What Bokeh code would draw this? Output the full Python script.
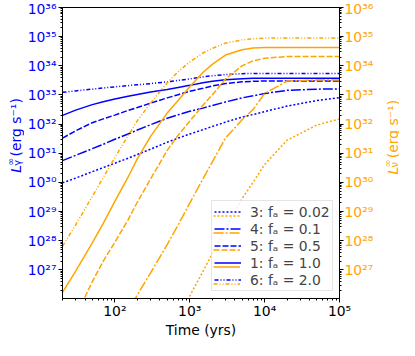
import numpy as np
from bokeh.plotting import figure
from bokeh.layouts import row
from bokeh.models import (Range1d, LogScale, LogAxis, FixedTicker, LogTickFormatter,
                          Legend, LegendItem)
from bokeh.core.properties import value
from bokeh.embed import file_html
from bokeh.resources import INLINE

# ---------------- data ----------------
time_yrs = [20, 30, 50, 70, 100, 150, 200, 300, 500, 700, 1000, 1500, 2000,
            3000, 5000, 7000, 1e4, 2e4, 5e4, 1e5]

# log10 of gamma-ray luminosity L_gamma (erg/s), left axis
log_Lg_fa002 = [29.99, 30.15, 30.37, 30.51, 30.66, 30.83, 30.96, 31.14, 31.38, 31.52,
                31.66, 31.81, 31.92, 32.07, 32.24, 32.33, 32.43, 32.62, 32.81, 32.91]
log_Lg_fa01 = [30.75, 30.93, 31.16, 31.31, 31.48, 31.66, 31.80, 31.98, 32.20, 32.32,
               32.44, 32.55, 32.64, 32.76, 32.90, 32.97, 33.05, 33.16, 33.20, 33.21]
log_Lg_fa05 = [31.52, 31.77, 32.05, 32.18, 32.31, 32.47, 32.57, 32.72, 32.90, 33.01,
               33.13, 33.23, 33.31, 33.39, 33.45, 33.47, 33.48, 33.48, 33.48, 33.48]
log_Lg_fa1 = [32.30, 32.48, 32.67, 32.77, 32.86, 32.96, 33.02, 33.10, 33.19, 33.26,
              33.33, 33.42, 33.47, 33.52, 33.56, 33.57, 33.57, 33.57, 33.57, 33.57]
log_Lg_fa2 = [33.09, 33.14, 33.20, 33.24, 33.28, 33.32, 33.35, 33.39, 33.45, 33.50,
              33.55, 33.62, 33.66, 33.70, 33.73, 33.74, 33.74, 33.74, 33.74, 33.74]

# log10 of neutrino luminosity L_nu (erg/s), right axis
log_Ln_fa002 = [18.0, 18.8, 19.9, 20.6, 21.4, 22.2, 22.8, 23.6, 24.7, 25.35,
                26.1, 26.95, 27.55, 28.4, 29.45, 30.0, 30.62, 31.45, 31.97, 32.18]
log_Ln_fa01 = [21.5, 22.3, 23.3, 24.0, 24.75, 25.55, 26.15, 26.9, 27.87, 28.54,
               29.29, 30.12, 30.7, 31.52, 32.15, 32.5, 33.05, 33.48, 33.51, 33.51]
log_Ln_fa05 = [24.6, 25.4, 26.6, 27.3, 27.95, 28.72, 29.33, 30.12, 31.1, 31.62,
               32.1, 32.65, 33.0, 33.55, 34.0, 34.17, 34.26, 34.32, 34.32, 34.32]
log_Ln_fa1 = [26.23, 26.96, 27.93, 28.60, 29.35, 30.18, 30.82, 31.58, 32.38, 32.81,
              33.28, 33.77, 34.05, 34.37, 34.55, 34.61, 34.63, 34.63, 34.63, 34.63]
log_Ln_fa2 = [27.81, 28.55, 29.52, 30.17, 30.85, 31.60, 32.12, 32.72, 33.42, 33.80,
              34.13, 34.44, 34.60, 34.78, 34.89, 34.93, 34.95, 34.95, 34.95, 34.95]

legend_labels = ["3: fₐ = 0.02", "4: fₐ = 0.1", "5: fₐ = 0.5", "1: fₐ = 1.0", "6: fₐ = 2.0"]

x_major = [1e2, 1e3, 1e4, 1e5]
x_tick_labels = ["10²", "10³", "10⁴", "10⁵"]
y_major = [10.0 ** k for k in range(26, 37)]
y_tick_labels = ["10²⁶", "10²⁷", "10²⁸", "10²⁹", "10³⁰", "10³¹", "10³²", "10³³",
                 "10³⁴", "10³⁵", "10³⁶"]

# ---------------- styling ----------------
BLUE = "#0000ff"
ORANGE = "#ffa500"
FONT = "DejaVu Sans"
FS = "13.9px"
dashes = ["2 2", "10 2 2 2", "6 2", "solid", "4 2 1 2 1 2"]
Y_LO, Y_HI = 1.05e26, 1e36

x_minor = [m * 10.0 ** k for k in range(1, 5) for m in range(2, 10)]
y_minor = [m * 10.0 ** k for k in range(26, 36) for m in range(2, 10)]

p = figure(width=352, height=340, x_axis_type="log", y_axis_type="log",
           x_range=Range1d(20, 1e5), y_range=Range1d(Y_LO, Y_HI),
           output_backend="svg", toolbar_location=None,
           min_border_left=36, min_border_right=36, min_border_top=7, min_border_bottom=38)
p.xgrid.visible = False
p.ygrid.visible = False
p.outline_line_color = "black"
p.outline_line_alpha = 1.0
p.background_fill_color = "white"
p.border_fill_color = "white"

p.extra_y_ranges = {"nu": Range1d(Y_LO, Y_HI)}
p.extra_y_scales = {"nu": LogScale()}
raxis = LogAxis(y_range_name="nu")
p.add_layout(raxis, "right")


def style_axis(ax, color, major, minor, labels, standoff):
    ax.ticker = FixedTicker(ticks=major, minor_ticks=minor)
    ax.formatter = LogTickFormatter()
    ax.major_label_overrides = {float(v): s for v, s in zip(major, labels)}
    ax.axis_line_color = "black"
    ax.major_tick_line_color = "black"
    ax.minor_tick_line_color = "black"
    ax.major_tick_in = 0
    ax.major_tick_out = 4
    ax.minor_tick_in = 0
    ax.minor_tick_out = 2
    ax.major_label_text_font = FONT
    ax.major_label_text_font_size = FS
    ax.major_label_text_color = color
    ax.major_label_standoff = standoff


style_axis(p.xaxis[0], "black", x_major, x_minor, x_tick_labels, 0)
style_axis(p.yaxis[0], BLUE, y_major, y_minor, y_tick_labels, 2)
style_axis(raxis, ORANGE, y_major, y_minor, y_tick_labels, 1)

p.xaxis[0].axis_label = "Time (yrs)"
p.xaxis[0].axis_label_text_font = FONT
p.xaxis[0].axis_label_text_font_size = FS
p.xaxis[0].axis_label_text_font_style = "normal"
p.xaxis[0].axis_label_text_color = "black"
p.xaxis[0].axis_label_standoff = 0

gamma_sets = [log_Lg_fa002, log_Lg_fa01, log_Lg_fa05, log_Lg_fa1, log_Lg_fa2]
nu_sets = [log_Ln_fa002, log_Ln_fa01, log_Ln_fa05, log_Ln_fa1, log_Ln_fa2]
t = np.array(time_yrs, dtype=float)

blue_r = []
for lg, d in zip(gamma_sets, dashes):
    r = p.line(t, np.power(10.0, lg), line_color=BLUE, line_width=1.5, line_dash=d)
    blue_r.append(r)
orange_r = []
for ln, d in zip(nu_sets, dashes):
    r = p.line(t, np.power(10.0, ln), line_color=ORANGE, line_width=1.5, line_dash=d,
               y_range_name="nu")
    orange_r.append(r)

# legend: blue glyph rows with labels, orange glyph rows (blank labels) just below
leg_kw = dict(label_text_font=FONT, label_text_font_size=FS, glyph_width=27, glyph_height=17,
              label_height=17, label_standoff=9, spacing=0, padding=2, margin=0)
leg_main = Legend(items=[LegendItem(label=lab, renderers=[r]) for lab, r in zip(legend_labels, blue_r)],
                  location=(149, 7), border_line_color="#cccccc", border_line_width=1,
                  background_fill_color="white", background_fill_alpha=0.8, **leg_kw)
leg_or = Legend(items=[LegendItem(label=" ", renderers=[r]) for r in orange_r],
                location=(149, 4), border_line_alpha=0, background_fill_alpha=0, **leg_kw)
p.add_layout(leg_main)
p.add_layout(leg_or)


# ---------------- side strips holding the rotated y-axis titles ----------------
def title_strip(width):
    f = figure(width=width, height=340, x_range=Range1d(0, width), y_range=Range1d(0, 340),
               output_backend="svg", toolbar_location=None, min_border=0,
               x_axis_location=None, y_axis_location=None)
    f.outline_line_color = None
    f.background_fill_color = "white"
    f.border_fill_color = "white"
    for g in f.grid:
        g.visible = False
    return f


def put(f, text, x, y, color, size=FS, style="normal"):
    f.text(x=[x], y=[y], text=[text], angle=np.pi / 2, text_font=value(FONT),
           text_font_size=value(size), text_font_style=value(style), text_color=color,
           text_baseline="alphabetic", text_align="left")


left = title_strip(24)
put(left, "L", 15, 147, BLUE, style="italic")
put(left, "∞", 10, 155, BLUE, size="9.7px")
put(left, "γ", 16.5, 155, BLUE, size="9.7px")
put(left, "(erg s⁻¹)", 15, 166, BLUE)

right = title_strip(23)
put(right, "L", 16, 145, ORANGE, style="italic")
put(right, "∞", 11, 153, ORANGE, size="9.7px")
put(right, "ν", 17.5, 153, ORANGE, size="9.7px")
put(right, "(erg s⁻¹)", 16, 164, ORANGE)

layout = row(left, p, right, spacing=0)
open("out.html", "w").write(file_html(layout, INLINE))
